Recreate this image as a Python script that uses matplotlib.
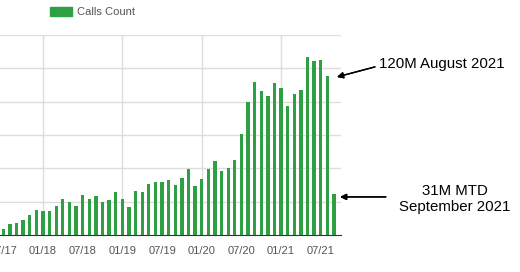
import matplotlib.pyplot as plt
from matplotlib.patches import Patch

# monthly calls, millions, Jul 2017 .. Sep 2021
months = ["07/17", "08/17", "09/17", "10/17", "11/17", "12/17",
          "01/18", "02/18", "03/18", "04/18", "05/18", "06/18",
          "07/18", "08/18", "09/18", "10/18", "11/18", "12/18",
          "01/19", "02/19", "03/19", "04/19", "05/19", "06/19",
          "07/19", "08/19", "09/19", "10/19", "11/19", "12/19",
          "01/20", "02/20", "03/20", "04/20", "05/20", "06/20",
          "07/20", "08/20", "09/20", "10/20", "11/20", "12/20",
          "01/21", "02/21", "03/21", "04/21", "05/21", "06/21",
          "07/21", "08/21", "09/21"]
calls = [4.7, 8.3, 9.0, 11.0, 15.0, 18.8,
         17.8, 18.0, 21.8, 27.0, 25.0, 22.0,
         30.0, 27.0, 29.5, 24.8, 26.5, 32.3,
         27.3, 21.0, 33.0, 32.5, 38.3, 39.5,
         40.0, 41.3, 37.5, 42.5, 49.5, 36.5,
         41.8, 49.5, 55.3, 48.2, 50.3, 56.3,
         76.0, 99.5, 114.5, 108.0, 104.5, 113.8,
         110.0, 96.8, 105.5, 108.8, 133.8, 130.8,
         131.3, 119.5, 30.8]

green = "#2ea043"
plt.rcParams["font.family"] = ["Liberation Sans", "DejaVu Sans"]

fig = plt.figure(figsize=(5.2, 2.72), dpi=100)
ax = fig.add_axes([0.0, 0.136, 0.655, 0.735])

x = list(range(len(calls)))
ax.bar(x, calls, width=0.5, color=green, zorder=3)

ax.set_xlim(-0.5, len(calls))
ax.set_ylim(0, 150)

# labels every 6 months, vertical grid only on January
lab_idx = [i for i, m in enumerate(months) if m[:2] in ("01", "07")]
ax.set_xticks(lab_idx)
ax.set_xticklabels([months[i] for i in lab_idx], fontsize=8, color="#555555")
jan_idx = [i for i, m in enumerate(months) if m[:2] == "01"]
for i in jan_idx:
    ax.axvline(i, color="#dddddd", lw=1, zorder=1)
ax.set_yticks([25, 50, 75, 100, 125, 150])
ax.yaxis.grid(True, color="#dddddd", lw=1, zorder=1)
ax.set_yticklabels([])
ax.tick_params(length=0, pad=8)
for s in ["left", "right", "top"]:
    ax.spines[s].set_visible(False)
ax.spines["bottom"].set_color("#333333")
ax.spines["bottom"].set_zorder(4)

fig.legend(handles=[Patch(color=green, label="Calls Count")],
           loc="center left", bbox_to_anchor=(0.077, 0.955), frameon=False,
           fontsize=8, handlelength=2.0, handleheight=0.9,
           handletextpad=0.4, labelcolor="#555555")

# annotations
arrow = dict(arrowstyle="-|>", color="black", lw=1, mutation_scale=9,
             shrinkA=0, shrinkB=0)
fig.text(0.729, 0.765, "120M August 2021", fontsize=10.8,
         ha="left", va="center")
fig.text(0.874, 0.267, "31M MTD\nSeptember 2021", fontsize=10.8,
         ha="center", va="center", linespacing=1.2)
fig.add_artist(plt.annotate("", xy=(0.648, 0.717), xytext=(0.721, 0.754),
                            xycoords="figure fraction",
                            textcoords="figure fraction", arrowprops=arrow))
fig.add_artist(plt.annotate("", xy=(0.654, 0.276), xytext=(0.742, 0.276),
                            xycoords="figure fraction",
                            textcoords="figure fraction", arrowprops=arrow))

fig.savefig("out.png", dpi=100)
